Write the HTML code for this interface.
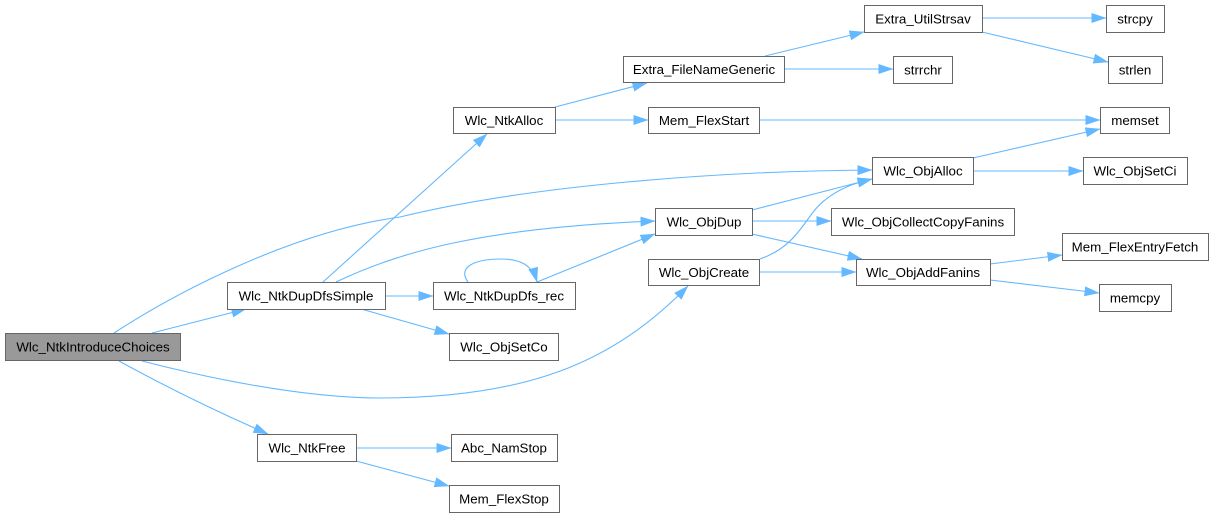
<!DOCTYPE html>
<html><head><meta charset="utf-8"><style>
html,body{margin:0;padding:0;background:#fff;width:1214px;height:517px;overflow:hidden}
svg{display:block}
text{font-family:"Liberation Sans",Arial,sans-serif;font-size:13.33px;fill:#000;text-anchor:middle}
.e{fill:none;stroke:#63b8ff;stroke-width:1.1;marker-end:url(#ah)}
.n{fill:#fff;stroke:#666;stroke-width:1}
</style></head><body>
<svg width="1214" height="517" viewBox="0 0 1214 517" xmlns="http://www.w3.org/2000/svg">
<defs>
<marker id="ah" markerUnits="userSpaceOnUse" markerWidth="15" markerHeight="11" viewBox="0 0 15 11" refX="14.5" refY="5.5" orient="auto">
<path d="M0,0.5 L15,5.5 L0,10.5 z" fill="#63b8ff"/>
</marker>
</defs>
<!-- edges -->
<path class="e" d="M152,333 L246,309"/>
<path class="e" d="M114,333 C174,294 290,232 400,217 C530,185 722,171 872,170"/>
<path class="e" d="M142,361 C200,376 300,398 380,398 C540,398 620,355 688,286"/>
<path class="e" d="M119,361 Q190,400 268,434"/>
<path class="e" d="M323,282 L487,134"/>
<path class="e" d="M336,282 C400,252 480,228 655,221"/>
<path class="e" d="M385,296 L433,296"/>
<path class="e" d="M361,309 L449,334"/>
<path class="e" d="M468,282 C457,267 475,259 501,259 C519,259 532,264 537,282"/>
<path class="e" d="M537,282 L655,234"/>
<path class="e" d="M356,448 L451,448"/>
<path class="e" d="M356,461 L449,486"/>
<path class="e" d="M555,107 L647,83"/>
<path class="e" d="M555,120 L648,120"/>
<path class="e" d="M765,56 L864,32"/>
<path class="e" d="M784,69 L893,69"/>
<path class="e" d="M982,18 L1106,18"/>
<path class="e" d="M982,32 L1108,62"/>
<path class="e" d="M759,120 L1100,120"/>
<path class="e" d="M973,158 L1100,129"/>
<path class="e" d="M973,171 L1083,171"/>
<path class="e" d="M752,210 L872,179"/>
<path class="e" d="M752,221 L831,221"/>
<path class="e" d="M752,234 L862,259"/>
<path class="e" d="M760,259 C800,245 805,215 825,200 C840,188 855,183 872,179"/>
<path class="e" d="M759,272 L856,272"/>
<path class="e" d="M990,264 L1062,255"/>
<path class="e" d="M990,280 L1099,293"/>
<!-- nodes -->
<rect x="5.5" y="333.5" width="175" height="27" fill="#999" stroke="#666"/>
<text x="93" y="351.5">Wlc_NtkIntroduceChoices</text>

<rect class="n" x="227.5" y="282.5" width="158" height="27"/>
<text x="306" y="300.5">Wlc_NtkDupDfsSimple</text>

<rect class="n" x="257.5" y="434.5" width="99" height="27"/>
<text x="307" y="452.5">Wlc_NtkFree</text>

<rect class="n" x="453.5" y="107.5" width="102" height="26"/>
<text x="504" y="125">Wlc_NtkAlloc</text>

<rect class="n" x="433.5" y="282.5" width="142" height="27"/>
<text x="504" y="300.5">Wlc_NtkDupDfs_rec</text>

<rect class="n" x="449.5" y="333.5" width="109" height="27"/>
<text x="504" y="351.5">Wlc_ObjSetCo</text>

<rect class="n" x="451.5" y="434.5" width="106" height="27"/>
<text x="504" y="452.5">Abc_NamStop</text>

<rect class="n" x="449.5" y="485.5" width="110" height="27"/>
<text x="504" y="503.5">Mem_FlexStop</text>

<rect class="n" x="623.5" y="56.5" width="161" height="26"/>
<text x="704" y="74">Extra_FileNameGeneric</text>

<rect class="n" x="648.5" y="107.5" width="111" height="26"/>
<text x="704" y="125">Mem_FlexStart</text>

<rect class="n" x="655.5" y="208.5" width="97" height="27"/>
<text x="704" y="226.5">Wlc_ObjDup</text>

<rect class="n" x="648.5" y="259.5" width="111" height="26"/>
<text x="704" y="277">Wlc_ObjCreate</text>

<rect class="n" x="864.5" y="5.5" width="118" height="27"/>
<text x="923" y="23.5">Extra_UtilStrsav</text>

<rect class="n" x="893.5" y="56.5" width="59" height="27"/>
<text x="923" y="74.5">strrchr</text>

<rect class="n" x="872.5" y="157.5" width="101" height="27"/>
<text x="923" y="175.5">Wlc_ObjAlloc</text>

<rect class="n" x="831.5" y="208.5" width="183" height="27"/>
<text x="923" y="226.5">Wlc_ObjCollectCopyFanins</text>

<rect class="n" x="856.5" y="259.5" width="134" height="26"/>
<text x="923" y="277">Wlc_ObjAddFanins</text>

<rect class="n" x="1106.5" y="5.5" width="58" height="27"/>
<text x="1135" y="23.5">strcpy</text>

<rect class="n" x="1108.5" y="56.5" width="54" height="27"/>
<text x="1135" y="74.5">strlen</text>

<rect class="n" x="1100.5" y="107.5" width="69" height="26"/>
<text x="1135" y="125">memset</text>

<rect class="n" x="1083.5" y="157.5" width="104" height="27"/>
<text x="1135" y="175.5">Wlc_ObjSetCi</text>

<rect class="n" x="1062.5" y="233.5" width="146" height="27"/>
<text x="1135" y="251.5">Mem_FlexEntryFetch</text>

<rect class="n" x="1099.5" y="284.5" width="72" height="27"/>
<text x="1135" y="302.5">memcpy</text>
</svg>
</body></html>
